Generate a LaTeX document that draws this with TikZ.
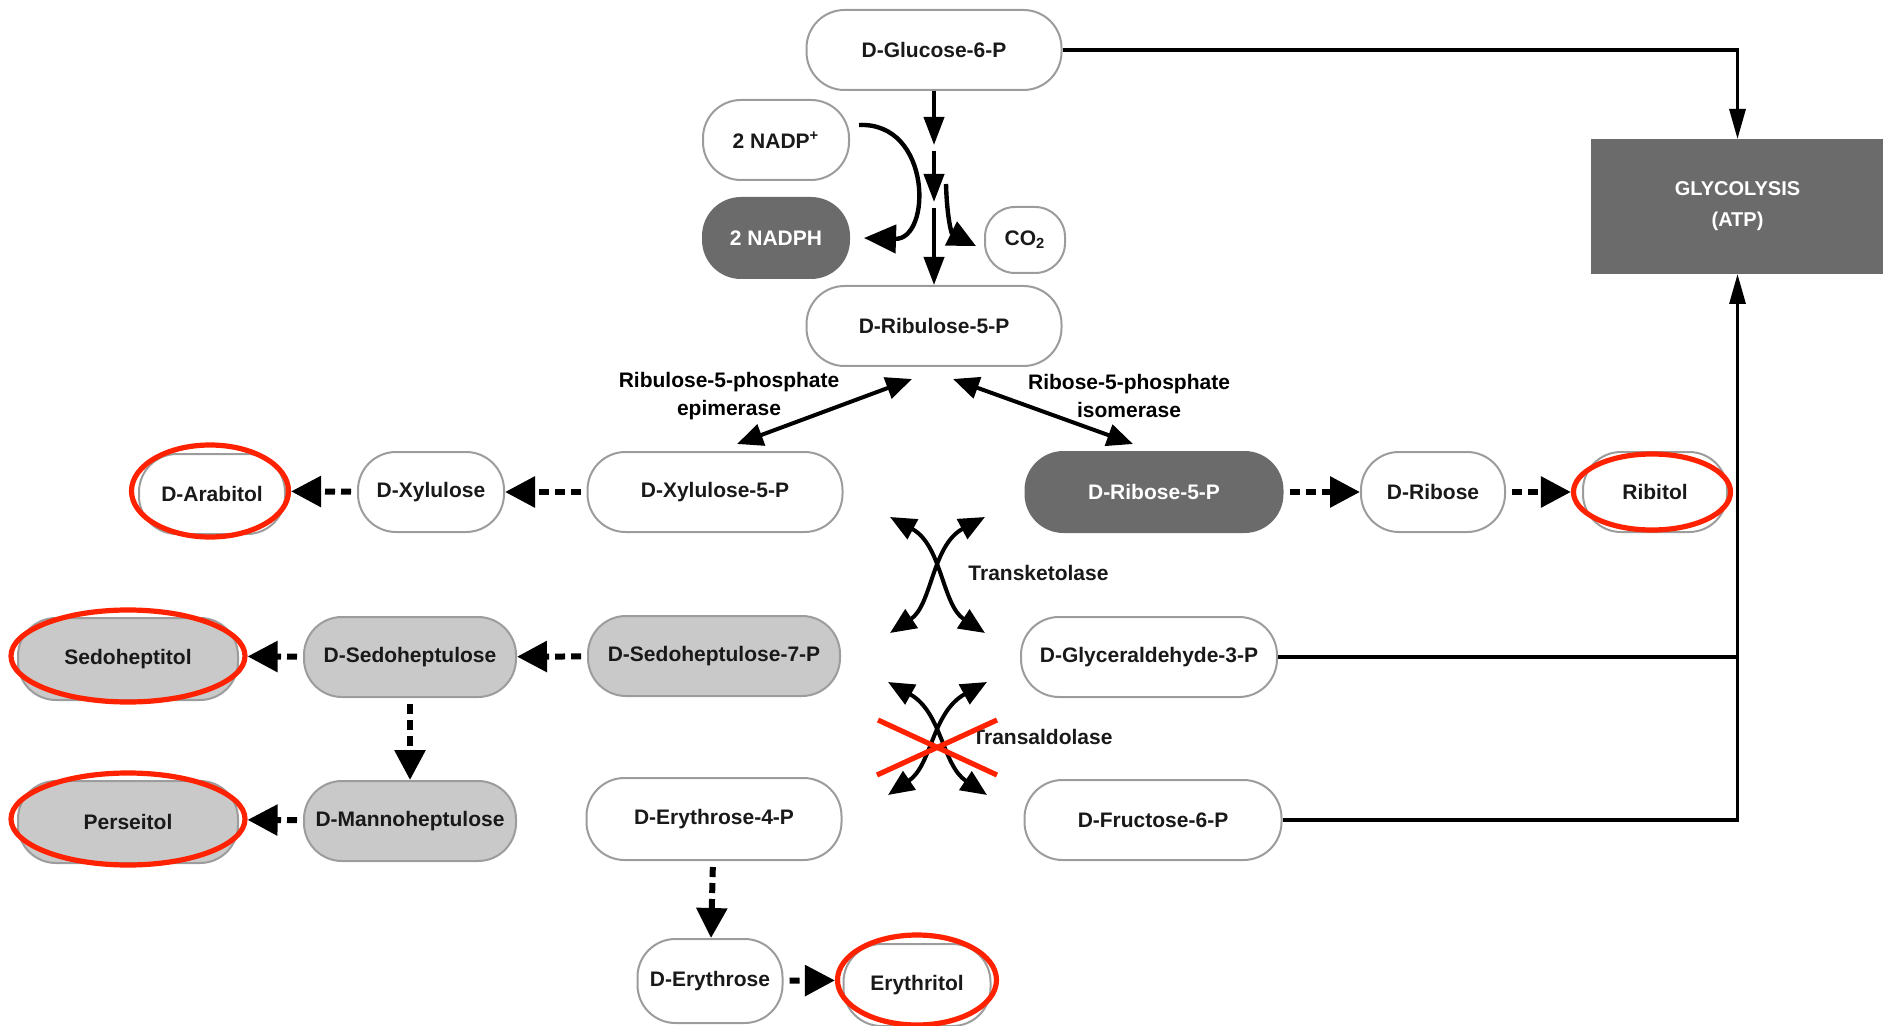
\documentclass[tikz,border=0pt]{standalone}
\usepackage{fontspec}
\setmainfont{Liberation Sans}
\usepackage{tikz}
\usetikzlibrary{positioning}
\usetikzlibrary{shapes.geometric}
\usetikzlibrary{arrows.meta}
\usepackage{xcolor}

\definecolor{boxline}{HTML}{9C9C9C}
\definecolor{darkbox}{HTML}{6B6B6B}
\definecolor{lightbox}{HTML}{C9C9C9}
\definecolor{ringred}{HTML}{FF2200}

\begin{document}
\begin{tikzpicture}[x=0.5pt, y=-0.5pt,
    font=\bfseries\fontsize{10.5}{14}\selectfont,
    pbox/.style={draw=boxline, line width=1pt, rounded corners=19pt, minimum height=40pt, inner sep=2pt, text=black!90, align=center},
    darkfill/.style={pbox, fill=darkbox, draw=darkbox, text=white},
    greyfill/.style={pbox, fill=lightbox},
    ring/.style={ellipse, draw=ringred, line width=2.6pt, inner sep=0pt},
    mainarr/.style={line width=2pt, -{Triangle[length=14pt,width=10pt]}},
    curvearr/.style={line width=2.2pt, -{Triangle[length=16pt,width=14pt]}},
    sidearr/.style={line width=3pt, dash pattern=on 5pt off 3pt, shorten <=3pt, -{Triangle[length=15pt,width=15pt]}},
    revarr/.style={line width=2pt, {Triangle[length=13pt,width=11pt]}-{Triangle[length=13pt,width=11pt]}},
    glyline/.style={line width=1.6pt},
    glyarr/.style={glyline, -{Triangle[length=15pt,width=8pt]}},
    enzlabel/.style={anchor=west, inner sep=0pt, text=black!90}
]
    \useasboundingbox (0,0) rectangle (1883,1026);

    % Oxidative branch
    \node[pbox, minimum width=127.5pt] (glucose) at (934,50) {D-Glucose-6-P};
    \node[pbox, minimum width=73pt] (nadp) at (776,140) {2 NADP\textsuperscript{+}};
    \node[darkfill, minimum width=73pt] (nadph) at (776,238) {2 NADPH};
    \node[pbox, minimum width=40pt, minimum height=33pt, rounded corners=15pt] (co2) at (1025,240) {CO\textsubscript{2}};
    \node[pbox, minimum width=127.5pt] (ribulose) at (934,326) {D-Ribulose-5-P};

    \coordinate (step1) at (934,145);
    \coordinate (step2) at (934,202);
    \coordinate (co2src) at (946,184);
    \draw[mainarr] (glucose) -- (step1);
    \draw[mainarr] ([yshift=-3pt]step1) -- (step2);
    \draw[mainarr] ([yshift=-3pt]step2) -- (ribulose);
    \draw[curvearr] ([xshift=4.5pt,yshift=7.5pt]nadp.east) .. controls (932,122) and (932,240) .. ([xshift=7pt]nadph.east);
    \draw[curvearr, -{Triangle[length=14pt,width=13pt]}] (co2src) .. controls (947,220) and (952,234) .. ([xshift=-4pt,yshift=-3pt]co2.west);

    % Glycolysis
    \node[darkfill, rounded corners=0pt, minimum width=145.5pt, minimum height=66.5pt, font=\bfseries\fontsize{10}{15.5}\selectfont] (glyc) at (1737.5,206.5) {GLYCOLYSIS\\(ATP)};

    % Isomerisation
    \node[align=center] (epilabel) at (729,396) {Ribulose-5-phosphate\\epimerase};
    \node[align=center] (isolabel) at (1129,396) {Ribose-5-phosphate\\isomerase};

    \node[pbox, minimum width=127.5pt] (xyl5p) at (715,492) {D-Xylulose-5-P};
    \node[darkfill, minimum width=128.5pt] (rib5p) at (1154,492) {D-Ribose-5-P};
    \node[pbox, minimum width=73pt] (xylulose) at (431,492) {D-Xylulose};
    \node[pbox, minimum width=73pt] (arabitol) at (212,494) {D-Arabitol};
    \node[ring, minimum width=78.5pt, minimum height=46pt] (arabring) at (210,491) {};
    \node[pbox, minimum width=72pt] (ribose) at (1433,492) {D-Ribose};
    \node[pbox, minimum width=72pt] (ribitol) at (1655,492) {Ribitol};
    \node[ring, minimum width=78.5pt, minimum height=38pt] (ribring) at (1652,492) {};

    \draw[revarr] ([xshift=-11pt,yshift=-6pt]ribulose.south) -- ([xshift=11pt,yshift=3.5pt]xyl5p.north);
    \draw[revarr] ([xshift=9.5pt,yshift=-6pt]ribulose.south) -- ([xshift=-10.5pt,yshift=3.5pt]rib5p.north);

    \draw[sidearr] (xyl5p) -- (xylulose);
    \draw[sidearr] (xylulose) -- (arabring);
    \draw[sidearr] (rib5p) -- (ribose);
    \draw[sidearr] (ribose) -- (ribring);

    % Transketolase / transaldolase
    \coordinate (tk1) at (890,517);
    \coordinate (tk2) at (985,517);
    \coordinate (tk3) at (890,633);
    \coordinate (tk4) at (985,633);
    \draw[revarr] (tk1) .. controls (942,545) and (942,605) .. (tk4);
    \draw[revarr] (tk2) .. controls (932,545) and (932,605) .. (tk3);
    \node[enzlabel] (tklabel) at (968,573) {Transketolase};

    \coordinate (ta1) at (888,682);
    \coordinate (ta2) at (987,682);
    \coordinate (ta3) at (888,795);
    \coordinate (ta4) at (987,795);
    \draw[revarr] (ta1) .. controls (942,712) and (942,765) .. (ta4);
    \draw[revarr] (ta2) .. controls (932,712) and (932,765) .. (ta3);
    \node[enzlabel] (talabel) at (972,737) {Transaldolase};
    \draw[ringred, line width=2.6pt] (877,775) -- (997,720);
    \draw[ringred, line width=2.6pt] (878,720) -- (997,775);

    \node[greyfill, minimum width=126pt] (sed7p) at (714,656) {D-Sedoheptulose-7-P};
    \node[pbox, minimum width=128pt] (gap) at (1149,657) {D-Glyceraldehyde-3-P};
    \node[greyfill, minimum width=106pt] (sedoh) at (410,657) {D-Sedoheptulose};
    \node[greyfill, minimum width=110pt, minimum height=41pt] (sedohol) at (128,659) {Sedoheptitol};
    \node[ring, minimum width=117pt, minimum height=46pt] (sedring) at (128,656) {};

    \node[pbox, minimum width=127.5pt, minimum height=41pt] (e4p) at (714,819) {D-Erythrose-4-P};
    \node[pbox, minimum width=128.5pt] (f6p) at (1153,820) {D-Fructose-6-P};
    \node[greyfill, minimum width=106pt] (manno) at (410,821) {D-Mannoheptulose};
    \node[greyfill, minimum width=110pt, minimum height=41pt] (perseitol) at (128,822) {Perseitol};
    \node[ring, minimum width=117pt, minimum height=46pt] (perring) at (128,819) {};

    \node[pbox, minimum width=72.5pt, minimum height=42pt] (erythrose) at (710,981) {D-Erythrose};
    \node[pbox, minimum width=73.5pt, minimum height=41pt] (erythritol) at (917,985) {Erythritol};
    \node[ring, minimum width=79.5pt, minimum height=45pt] (eryring) at (917,980) {};

    \draw[sidearr] (sed7p) -- (sedoh);
    \draw[sidearr] (sedoh) -- (sedring);
    \draw[sidearr] (sedoh) -- (manno);
    \draw[sidearr] (manno) -- (perring);
    \draw[sidearr] (e4p) -- (erythrose);
    \draw[sidearr] (erythrose) -- (eryring);

    % To glycolysis
    \draw[glyarr] (glucose.east) -- (glucose.east -| glyc) -- (glyc.north);
    \draw[glyline] (gap.east) -- (gap.east -| glyc);
    \draw[glyarr] (f6p.east) -- (f6p.east -| glyc) -- (glyc.south);
\end{tikzpicture}
\end{document}
